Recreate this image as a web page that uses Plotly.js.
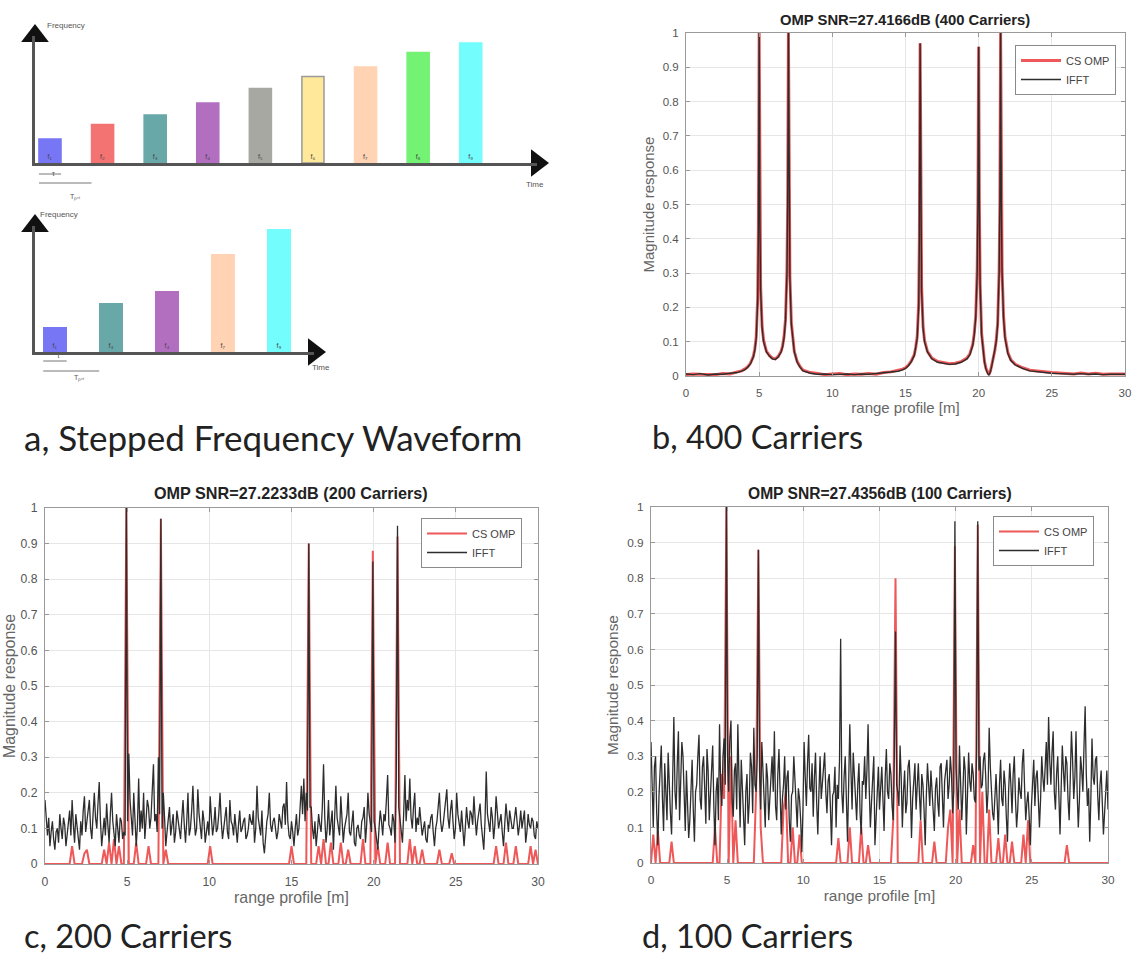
<!DOCTYPE html>
<html><head><meta charset="utf-8">
<script src="https://cdn.plot.ly/plotly-3.0.1.min.js"></script>
<style>html,body{margin:0;padding:0;background:#fff}#chart{width:1137px;height:966px}</style>
</head><body><div id="chart"></div>
<script>
// ---------- Panel a: stepped frequency waveform ----------
const carrierLabels = ['f₁','f₂','f₃','f₄','f₅','f₆','f₇','f₈','f₉'];
const carrierSlots = [1,2,3,4,5,6,7,8,9];
const carrierFreq = [1.0,1.6,2.0,2.5,3.1,3.6,4.0,4.6,5.0];
const carrierColors = ['#7777f5','#f37272','#69a8a8','#b26fc0','#a8a8a2','#ffe89a','#ffd3b3','#73f273','#73fdfd'];
const sparseSlots = [1,2,3,4,5];
const sparseCarrierIndex = [0,2,3,6,8];   // carriers kept in the sparse waveform

// ---------- Panel b: 400 carriers ----------
const bRange = [0,0.5,1,1.5,2,2.5,3,3.5,3.8,4,4.2,4.4,4.6,4.7,4.8,4.9,4.95,5,5.05,5.1,
5.2,5.3,5.4,5.5,5.7,5.9,6.1,6.3,6.5,6.6,6.7,6.8,6.9,6.95,7,7.05,7.1,7.2,7.3,7.4,
7.6,7.8,8,8.5,9,9.5,10,10.5,11,11.5,12,12.5,13,13.5,14,14.5,14.8,15,15.2,15.4,
15.6,15.7,15.8,15.9,15.95,16,16.05,16.1,16.2,16.3,16.5,16.8,17.2,17.6,18,18.4,18.8,19.2,19.4,19.6,
19.7,19.8,19.9,19.95,20,20.05,20.1,20.2,20.3,20.4,20.5,20.6,20.7,20.8,20.9,21,21.1,21.2,21.3,21.4,
21.45,21.5,21.55,21.6,21.7,21.8,22,22.2,22.5,23,23.5,24,24.5,25,25.5,26,26.5,27,27.5,28,
28.5,29,29.5,30];
const bIfft = [0.006,0.004,0.007,0.003,0.006,0.005,0.008,0.010,0.014,0.018,0.025,0.035,0.055,0.075,0.11,0.22,0.42,1.0,0.45,0.25,
0.14,0.10,0.085,0.07,0.058,0.05,0.048,0.055,0.07,0.085,0.11,0.16,0.30,0.50,1.0,0.50,0.28,0.15,0.10,0.07,
0.04,0.025,0.015,0.008,0.005,0.006,0.004,0.005,0.006,0.004,0.006,0.005,0.007,0.008,0.010,0.014,0.018,0.022,0.030,0.042,
0.06,0.08,0.11,0.20,0.40,0.97,0.45,0.25,0.14,0.10,0.07,0.05,0.04,0.036,0.034,0.035,0.04,0.05,0.062,0.09,
0.12,0.17,0.30,0.50,0.96,0.48,0.26,0.12,0.07,0.04,0.02,0.008,0.003,0.012,0.03,0.05,0.07,0.10,0.15,0.30,
0.50,1.0,0.50,0.30,0.17,0.11,0.065,0.045,0.032,0.022,0.015,0.012,0.010,0.008,0.007,0.006,0.005,0.007,0.005,0.006,
0.004,0.005,0.004,0.005];
const bOmp = [0.004,0.006,0.005,0.005,0.004,0.007,0.006,0.012,0.015,0.02,0.026,0.037,0.057,0.078,0.115,0.23,0.44,1.0,0.46,0.26,
0.145,0.105,0.088,0.072,0.06,0.052,0.05,0.057,0.072,0.088,0.115,0.165,0.31,0.52,1.0,0.52,0.29,0.155,0.105,0.072,
0.042,0.027,0.017,0.01,0.007,0.004,0.006,0.007,0.004,0.006,0.005,0.007,0.005,0.01,0.012,0.016,0.02,0.024,0.032,0.044,
0.062,0.083,0.115,0.21,0.41,0.97,0.46,0.26,0.145,0.104,0.072,0.052,0.042,0.038,0.036,0.037,0.042,0.052,0.065,0.093,
0.125,0.175,0.31,0.51,0.96,0.49,0.27,0.125,0.073,0.042,0.022,0.01,0.004,0.014,0.032,0.052,0.073,0.104,0.155,0.31,
0.51,1.0,0.51,0.31,0.175,0.115,0.068,0.047,0.034,0.024,0.017,0.014,0.012,0.01,0.009,0.007,0.006,0.009,0.006,0.008,
0.005,0.006,0.005,0.006];

// ---------- Panels c & d ----------
// IFFT profiles: 0.075 m range bins (0..30 m); CS OMP profiles: 0.15 m range bins (0..30 m)
const ifftBinStep = 0.075;
const ompBinStep = 0.15;
const cIfft = [
0.18,0.11,0.08,0.13,0.05,0.09,0.12,0.07,0.04,0.09,0.10,0.06,0.14,0.10,0.07,0.13,0.11,0.05,0.09,0.12,
0.15,0.08,0.18,0.11,0.06,0.14,0.10,0.07,0.04,0.12,0.08,0.15,0.19,0.09,0.12,0.16,0.18,0.10,0.07,0.14,
0.20,0.13,0.10,0.17,0.23,0.12,0.05,0.09,0.13,0.08,0.17,0.11,0.06,0.14,0.20,0.12,0.09,0.05,0.14,0.10,
0.06,0.13,0.12,0.07,0.09,0.08,1.00,0.12,0.31,0.18,0.12,0.08,0.20,0.14,0.05,0.11,0.24,0.09,0.15,0.10,
0.20,0.07,0.12,0.18,0.16,0.10,0.13,0.22,0.28,0.12,0.14,0.09,0.30,0.14,0.97,0.10,0.20,0.13,0.05,0.09,
0.12,0.16,0.08,0.11,0.14,0.06,0.09,0.15,0.12,0.10,0.07,0.13,0.18,0.11,0.06,0.12,0.20,0.08,0.10,0.15,
0.22,0.13,0.08,0.10,0.21,0.14,0.11,0.07,0.15,0.12,0.06,0.10,0.12,0.08,0.19,0.13,0.08,0.11,0.16,0.09,
0.10,0.14,0.20,0.12,0.07,0.10,0.13,0.16,0.09,0.07,0.18,0.12,0.11,0.08,0.14,0.10,0.06,0.11,0.15,0.09,
0.10,0.12,0.13,0.07,0.08,0.10,0.14,0.12,0.11,0.15,0.06,0.10,0.22,0.13,0.10,0.08,0.15,0.06,0.03,0.09,
0.12,0.14,0.20,0.11,0.09,0.12,0.13,0.10,0.07,0.09,0.14,0.12,0.10,0.16,0.17,0.11,0.23,0.12,0.08,0.07,
0.12,0.09,0.05,0.10,0.14,0.08,0.10,0.16,0.22,0.14,0.24,0.12,0.20,0.15,0.90,0.16,0.16,0.10,0.07,0.12,
0.05,0.09,0.14,0.11,0.09,0.16,0.28,0.13,0.06,0.10,0.18,0.08,0.12,0.15,0.04,0.11,0.22,0.13,0.10,0.08,
0.19,0.12,0.06,0.10,0.12,0.14,0.20,0.09,0.08,0.12,0.15,0.06,0.05,0.10,0.11,0.08,0.07,0.12,0.13,0.16,
0.06,0.11,0.20,0.14,0.12,0.09,0.85,0.12,0.10,0.07,0.04,0.10,0.15,0.12,0.08,0.14,0.12,0.18,0.25,0.11,
0.10,0.08,0.14,0.12,0.06,0.24,0.95,0.16,0.12,0.10,0.06,0.14,0.25,0.12,0.18,0.15,0.24,0.13,0.10,0.16,
0.20,0.09,0.13,0.11,0.16,0.12,0.08,0.10,0.12,0.07,0.06,0.11,0.10,0.13,0.14,0.09,0.05,0.10,0.12,0.16,
0.20,0.12,0.09,0.11,0.14,0.17,0.21,0.13,0.10,0.15,0.18,0.12,0.07,0.10,0.20,0.14,0.12,0.09,0.15,0.11,
0.05,0.10,0.16,0.12,0.10,0.15,0.14,0.11,0.19,0.13,0.08,0.12,0.15,0.17,0.11,0.07,0.04,0.12,0.26,0.14,
0.12,0.09,0.16,0.13,0.07,0.11,0.19,0.15,0.10,0.12,0.14,0.09,0.05,0.11,0.17,0.13,0.09,0.15,0.13,0.10,
0.10,0.14,0.16,0.12,0.08,0.11,0.15,0.10,0.12,0.15,0.06,0.09,0.14,0.11,0.10,0.13,0.12,0.08,0.07,0.12,
0.10];
const cOmp = [0,0,0,0,0,0,0,0,0,0,0,0.05,0,0,0,0,0.03,0.04,0,0,
0,0,0,0,0.04,0,0.06,0,0.07,0,0.05,0,0,1.0,0,0,0,0.06,0,0,
0,0,0.05,0,0,0,0,0.97,0,0.04,0,0,0,0,0,0,0,0,0,0,
0,0,0,0,0,0,0,0.05,0,0,0,0,0,0,0,0,0,0,0,0,
0,0,0,0,0,0,0,0,0,0,0,0,0,0,0,0,0,0,0,0,
0.05,0,0,0,0,0,0,0.90,0,0,0,0.05,0,0.07,0,0,0.06,0,0,0,
0.06,0,0,0.04,0,0,0,0,0,0.07,0,0,0,0.88,0,0.05,0,0,0,0.06,
0,0,0,0.92,0,0,0,0,0.07,0,0.05,0,0,0.04,0,0,0,0,0,0,
0.04,0,0,0,0,0.03,0,0,0,0,0,0,0,0,0,0,0,0,0,0,
0,0,0,0.05,0,0,0,0.06,0,0,0,0.05,0,0,0,0,0,0.05,0,0.04,
0];
const dIfft = [
0.34,0.22,0.10,0.27,0.30,0.14,0.05,0.19,0.25,0.33,0.18,0.09,0.28,0.21,0.12,0.31,0.20,0.14,0.08,0.24,
0.41,0.20,0.15,0.28,0.37,0.12,0.22,0.34,0.30,0.17,0.09,0.26,0.18,0.07,0.12,0.23,0.29,0.15,0.06,0.20,
0.22,0.30,0.36,0.18,0.15,0.27,0.30,0.21,0.11,0.32,0.26,0.12,0.20,0.29,0.33,0.16,0.05,0.20,0.24,0.12,
0.39,0.21,0.16,0.30,0.35,0.22,1.00,0.30,0.20,0.35,0.40,0.18,0.13,0.26,0.28,0.15,0.39,0.24,0.10,0.29,
0.22,0.13,0.05,0.20,0.25,0.11,0.17,0.31,0.27,0.14,0.38,0.22,0.20,0.30,0.88,0.26,0.15,0.34,0.27,0.19,
0.10,0.28,0.24,0.12,0.18,0.27,0.30,0.20,0.37,0.16,0.12,0.25,0.32,0.20,0.08,0.18,0.22,0.30,0.15,0.24,
0.26,0.12,0.06,0.19,0.20,0.30,0.24,0.14,0.10,0.21,0.18,0.12,0.03,0.15,0.34,0.24,0.16,0.28,0.36,0.21,
0.20,0.28,0.13,0.24,0.31,0.17,0.08,0.20,0.30,0.18,0.22,0.27,0.31,0.20,0.14,0.23,0.25,0.16,0.05,0.19,
0.20,0.27,0.10,0.22,0.18,0.29,0.63,0.20,0.14,0.24,0.30,0.18,0.06,0.22,0.39,0.26,0.15,0.31,0.25,0.18,
0.12,0.22,0.28,0.14,0.08,0.23,0.22,0.30,0.18,0.26,0.39,0.21,0.10,0.17,0.24,0.30,0.05,0.14,0.20,0.27,
0.15,0.22,0.27,0.18,0.09,0.24,0.32,0.20,0.18,0.28,0.25,0.16,0.12,0.30,0.65,0.22,0.20,0.16,0.33,0.24,
0.10,0.20,0.26,0.14,0.17,0.27,0.29,0.21,0.07,0.18,0.24,0.28,0.15,0.22,0.28,0.19,0.12,0.25,0.22,0.15,
0.05,0.19,0.28,0.22,0.16,0.26,0.20,0.12,0.09,0.21,0.24,0.17,0.13,0.27,0.28,0.19,0.10,0.23,0.26,0.29,
0.18,0.22,0.30,0.25,0.14,0.20,0.96,0.27,0.20,0.15,0.33,0.24,0.12,0.20,0.30,0.26,0.08,0.19,0.31,0.23,
0.20,0.28,0.25,0.18,0.17,0.31,0.96,0.26,0.30,0.21,0.22,0.29,0.31,0.24,0.14,0.20,0.38,0.27,0.20,0.14,
0.12,0.20,0.25,0.17,0.08,0.22,0.29,0.18,0.16,0.26,0.22,0.13,0.06,0.20,0.28,0.22,0.14,0.25,0.30,0.18,
0.10,0.15,0.24,0.20,0.18,0.28,0.32,0.21,0.12,0.17,0.20,0.13,0.05,0.16,0.22,0.29,0.16,0.24,0.26,0.19,
0.10,0.18,0.30,0.24,0.20,0.27,0.34,0.22,0.41,0.29,0.22,0.31,0.37,0.20,0.15,0.25,0.30,0.19,0.08,0.21,
0.33,0.26,0.20,0.30,0.28,0.18,0.12,0.24,0.37,0.29,0.18,0.24,0.37,0.20,0.10,0.18,0.30,0.26,0.20,0.33,
0.44,0.25,0.16,0.21,0.06,0.18,0.35,0.24,0.22,0.29,0.30,0.19,0.12,0.22,0.26,0.17,0.08,0.14,0.20,0.26,
0.15];
const dOmp = [0,0.08,0,0.09,0,0,0,0,0,0.06,0,0,0,0,0,0,0,0,0,0,
0,0,0,0,0,0,0,0,0.10,0,0,0.25,0.18,1.0,0,0.30,0,0.12,0,0,
0,0,0,0,0,0,0.20,0.88,0.10,0,0,0,0,0,0,0,0,0,0.15,0.20,
0,0,0.10,0,0,0.08,0,0,0,0,0,0,0,0,0,0,0,0,0,0,
0,0,0.07,0,0,0,0,0.10,0,0,0,0,0.10,0,0,0.05,0,0,0,0,
0,0,0,0,0,0,0.12,0.80,0,0,0,0,0,0,0,0,0,0,0.12,0,
0,0,0,0,0.06,0,0,0,0,0,0.10,0.15,0,0.89,0,0.15,0,0,0,0,
0,0.05,0,0.95,0,0.20,0,0,0.15,0,0,0,0.07,0,0,0.08,0,0,0.06,0,
0,0,0,0.08,0,0.12,0,0,0,0,0,0,0,0,0,0,0,0,0,0,
0,0,0.05,0,0,0,0,0,0,0,0,0,0,0,0,0,0,0,0,0,
0];

const panelTitles = ['OMP SNR=27.4166dB (400 Carriers)','OMP SNR=27.2233dB (200 Carriers)','OMP SNR=27.4356dB (100 Carriers)'];
const captions = ['a, Stepped Frequency Waveform','b, 400 Carriers','c, 200 Carriers','d, 100 Carriers'];
const xTicks = [0,5,10,15,20,25,30];
const yTicks = [0,0.1,0.2,0.3,0.4,0.5,0.6,0.7,0.8,0.9,1];

// ---------- build ----------
const W = 1137, H = 966;
const PX = v => v / W, PY = v => 1 - v / H;
const ifftBins = cIfft.map((_, i) => +(i * ifftBinStep).toFixed(3));
const ompBins = cOmp.map((_, i) => +(i * ompBinStep).toFixed(3));

const RED = 'rgb(238,88,88)', BLK = 'rgb(45,45,45)';
const traces = [];
function addPair(xo, omp, xi, ifft, xa, ya, lg, redW, blkW) {
  traces.push({type:'scatter', mode:'lines', x:xo, y:omp, name:'CS OMP', xaxis:xa, yaxis:ya, legend:lg,
    line:{color:RED, width:redW}, hoverinfo:'skip'});
  traces.push({type:'scatter', mode:'lines', x:xi, y:ifft, name:'IFFT', xaxis:xa, yaxis:ya, legend:lg,
    line:{color:BLK, width:blkW}, hoverinfo:'skip'});
}
addPair(bRange, bOmp, bRange, bIfft, 'x', 'y', 'legend', 3, 1.4);
addPair(ompBins, cOmp, ifftBins, cIfft, 'x2', 'y2', 'legend2', 2, 1.3);
addPair(ompBins, dOmp, ifftBins, dIfft, 'x3', 'y3', 'legend3', 2, 1.3);

// diagram axes ranges (time slots / frequency steps)
const topRangeX = [0.715, 10.26], topRangeY = [0, 5.29];
const botRangeX = [0.643, 5.625], botRangeY = [0, 5.14];
const barWidth = 0.42;
traces.push({type:'bar', x:carrierSlots, y:carrierFreq, width:barWidth, xaxis:'x4', yaxis:'y4', showlegend:false,
  marker:{color:carrierColors, line:{color:carrierColors.map((c,i)=> i===5 ? '#9a9a9a' : c), width:1.5}},
  text:carrierLabels, textposition:'inside', insidetextanchor:'start', textangle:0,
  textfont:{size:7, color:'#444', family:'Liberation Sans'}, hoverinfo:'skip'});
traces.push({type:'bar', x:sparseSlots, y:sparseCarrierIndex.map(i=>carrierFreq[i]), width:barWidth, xaxis:'x5', yaxis:'y5', showlegend:false,
  marker:{color:sparseCarrierIndex.map(i=>carrierColors[i]), line:{width:0}},
  text:sparseCarrierIndex.map(i=>carrierLabels[i]), textposition:'inside', insidetextanchor:'start', textangle:0,
  textfont:{size:7, color:'#444', family:'Liberation Sans'}, hoverinfo:'skip'});
// arrow heads at the ends of the diagram axes
[['x4','y4',topRangeX,topRangeY],['x5','y5',botRangeX,botRangeY]].forEach(([xa,ya,rx,ry])=>{
  traces.push({type:'scatter', mode:'markers', x:[rx[1], rx[0]], y:[ry[0], ry[1]], xaxis:xa, yaxis:ya, showlegend:false,
    cliponaxis:false, marker:{symbol:['triangle-right','triangle-up'], size:24, color:'#111', line:{width:0}}, hoverinfo:'skip'});
});

const FONT = 'Liberation Sans, Arial, sans-serif';
function sciX(dom, anchor, s) {
  return {domain:dom, anchor:anchor, range:[0,30], tickvals:xTicks, ticks:'inside', ticklen:4, tickcolor:'#999',
    showline:true, mirror:'ticks', linecolor:'#9a9a9a', linewidth:1, showgrid:true, gridcolor:'#e6e6e6', zeroline:false,
    tickfont:{family:FONT, size:11.5*s, color:'#555'}, ticklabelstandoff:6,
    title:{text:'range profile [m]', font:{family:FONT, size:15*s, color:'#666'}, standoff:3}};
}
function sciY(dom, anchor, s, so) {
  return {domain:dom, anchor:anchor, range:[0,1], tickvals:yTicks, ticks:'inside', ticklen:4, tickcolor:'#999',
    showline:true, mirror:'ticks', linecolor:'#9a9a9a', linewidth:1, showgrid:true, gridcolor:'#e6e6e6', zeroline:false,
    tickfont:{family:FONT, size:11.5*s, color:'#555'}, ticklabelstandoff:4,
    title:{text:'Magnitude response', font:{family:FONT, size:15*s, color:'#666'}, standoff:so}};
}
function diagAxis(dom, anchor, range) {
  return {domain:dom, anchor:anchor, range:range, showline:true, linecolor:'#555', linewidth:3,
    showticklabels:false, ticks:'', showgrid:false, zeroline:false, fixedrange:true};
}
function legendAt(right, top, s) {
  return {x:PX(right), xanchor:'right', y:PY(top), yanchor:'top', bgcolor:'#fff', bordercolor:'#8a8a8a', borderwidth:1,
    font:{family:FONT, size:11*s, color:'#444'}, tracegroupgap:0, itemwidth:40};
}
const panelScale = [1.0, 1.06, 1.03];   // b, c, d (panels are printed at slightly different sizes)

const ann = [];
const titlePos = [[905,20],[291,493],[880,493]];
const titleSize = [14.8, 16.2, 15.6];
panelTitles.forEach((t,i)=> ann.push({xref:'paper', yref:'paper', x:PX(titlePos[i][0]), y:PY(titlePos[i][1]),
  text:'<b>'+t+'</b>', showarrow:false, font:{family:FONT, size:titleSize[i], color:'#222'}, xanchor:'center', yanchor:'middle'}));
const capPos = [[22,437],[650,437],[22,935],[640,935]];
const capSize = [35,32.5,32.5,32.5];
captions.forEach((t,i)=> ann.push({xref:'paper', yref:'paper', x:PX(capPos[i][0]), y:PY(capPos[i][1]),
  text:t, showarrow:false, font:{family:'Lato, sans-serif', size:capSize[i], color:'#222'}, xanchor:'left', yanchor:'middle'}));
const smallLbl = (x,y,t,sz)=>ann.push({xref:'paper', yref:'paper', x:PX(x), y:PY(y), text:t, showarrow:false,
  font:{family:FONT, size:sz||8, color:'#555'}});
smallLbl(45,19,'Frequency'); smallLbl(535,178,'Time');
smallLbl(38,208,'Frequency'); smallLbl(310,367,'Time');
smallLbl(50,168,'τ',7); smallLbl(68,191,'Tₚᵣᵢ',7);
smallLbl(55,355,'τ',7); smallLbl(72,378,'Tₚᵣᵢ',7);

const shapes = [];
[['x4',174,183],['x5',361,371]].forEach(([xa,y1,y2])=>{
  shapes.push({type:'line', xref:xa, yref:'paper', x0:1-barWidth/2, x1:1+barWidth/2, y0:PY(y1), y1:PY(y1), line:{color:'#777', width:1}});
  shapes.push({type:'line', xref:xa, yref:'paper', x0:1-barWidth/2, x1:2-barWidth/2, y0:PY(y2), y1:PY(y2), line:{color:'#777', width:1}});
});

const layout = {
  width:W, height:H, margin:{l:0,r:0,t:0,b:0}, paper_bgcolor:'#fff', plot_bgcolor:'#fff',
  font:{family:FONT}, bargap:0,
  xaxis: sciX([PX(686),PX(1125)], 'y', panelScale[0]),  yaxis: sciY([PY(376),PY(33)], 'x', panelScale[0], 4),
  xaxis2: sciX([PX(45),PX(538)], 'y2', panelScale[1]),  yaxis2: sciY([PY(864),PY(508)], 'x2', panelScale[1], 1),
  xaxis3: sciX([PX(651),PX(1108)], 'y3', panelScale[2]), yaxis3: sciY([PY(863),PY(507)], 'x3', panelScale[2], 4),
  xaxis4: diagAxis([PX(35),PX(537)], 'y4', topRangeX),
  yaxis4: diagAxis([PY(163),PY(36)], 'x4', topRangeY),
  xaxis5: diagAxis([PX(35),PX(314)], 'y5', botRangeX),
  yaxis5: diagAxis([PY(352),PY(226)], 'x5', botRangeY),
  legend: legendAt(1116, 45, 1), legend2: legendAt(522, 518, 1), legend3: legendAt(1094, 516, 1),
  annotations: ann, shapes: shapes, showlegend:true
};
Plotly.newPlot('chart', traces, layout, {staticPlot:true, displayModeBar:false});
</script></body></html>
